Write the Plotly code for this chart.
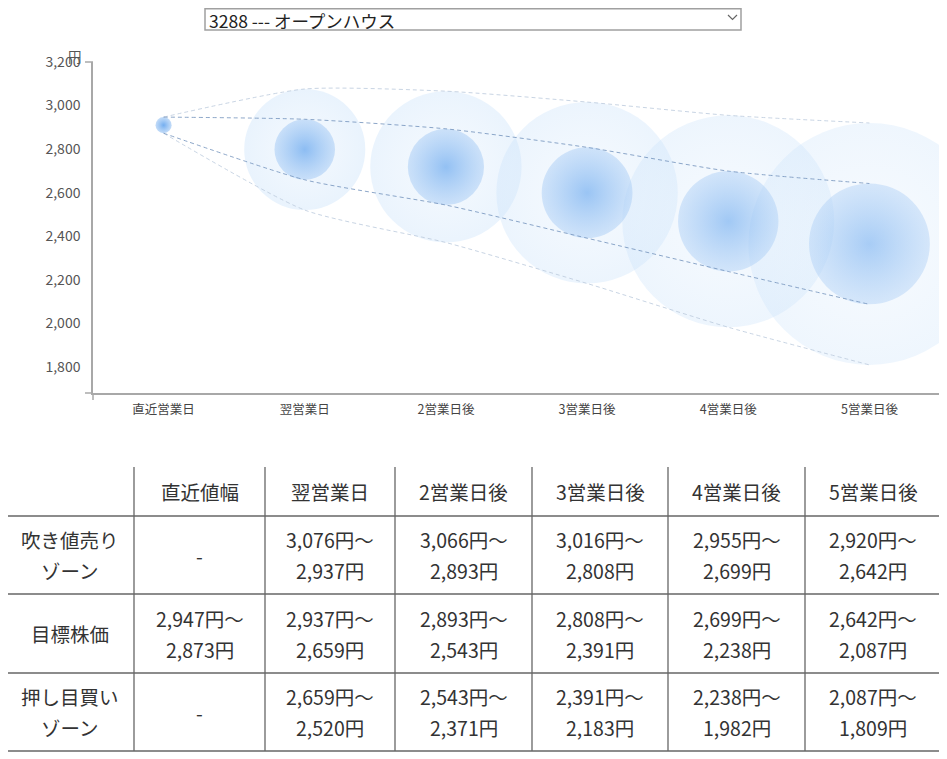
import plotly.graph_objects as go

W, H = 947, 759
OFF = 8  # page body margin: figure starts 8px in from the window corner
FONT = "Noto Sans CJK JP"

stock_label = "3288 --- オープンハウス"
days = ["直近営業日", "翌営業日", "2営業日後", "3営業日後", "4営業日後", "5営業日後"]
table_cols = ["直近値幅", "翌営業日", "2営業日後", "3営業日後", "4営業日後", "5営業日後"]
row_labels = [["吹き値売り", "ゾーン"], ["目標株価"], ["押し目買い", "ゾーン"]]

# 吹き値売りゾーン / 目標株価 / 押し目買いゾーン  (円)
sell_hi = [None, 3076, 3066, 3016, 2955, 2920]
sell_lo = [None, 2937, 2893, 2808, 2699, 2642]
target_hi = [2947, 2937, 2893, 2808, 2699, 2642]
target_lo = [2873, 2659, 2543, 2391, 2238, 2087]
buy_hi = [None, 2659, 2543, 2391, 2238, 2087]
buy_lo = [None, 2520, 2371, 2183, 1982, 1809]

y_ticks = [1800, 2000, 2200, 2400, 2600, 2800, 3000, 3200]
Y_MIN, Y_MAX = 1680, 3200

# bubbles fade out the further ahead they are
fade = [1.0, 0.8, 0.75, 0.7, 0.65, 0.6]

# page layout in window pixels
plot_l, plot_r, plot_t, plot_b = 93, 940, 62, 393
col_edges = [5, 134, 265, 395, 532, 668, 805, 941]
row_edges = [467, 516, 594, 673, 751]
LINE_GAP = 15.5


def px(v):
    return (v - OFF) / W


def py(v):
    return 1 - (v - OFF) / H


px_per_yen = (plot_b - plot_t) / (Y_MAX - Y_MIN)

fig = go.Figure()

# outer bubble: whole range from 吹き値 high to 押し目 low
out_idx = [i for i, h in enumerate(sell_hi) if h is not None]
out_hi = [sell_hi[i] for i in out_idx]
out_lo = [buy_lo[i] for i in out_idx]
fig.add_trace(go.Scatter(
    x=[days[i] for i in out_idx], y=[(h + l) / 2 for h, l in zip(out_hi, out_lo)],
    mode="markers", hoverinfo="skip", showlegend=False,
    marker=dict(size=[(h - l) * px_per_yen for h, l in zip(out_hi, out_lo)],
                color="rgba(200,225,250,0.5)", line=dict(width=0),
                opacity=[fade[i] for i in out_idx],
                gradient=dict(type="radial", color="rgba(222,237,252,0.4)")),
))

# inner bubble: target range
fig.add_trace(go.Scatter(
    x=days, y=[(h + l) / 2 for h, l in zip(target_hi, target_lo)],
    mode="markers", hoverinfo="skip", showlegend=False,
    marker=dict(size=[(h - l) * px_per_yen for h, l in zip(target_hi, target_lo)],
                color="rgba(170,205,245,0.7)", line=dict(width=0), opacity=fade,
                gradient=dict(type="radial", color="rgba(100,165,238,0.9)")),
))

upper_outer = [target_hi[0]] + sell_hi[1:]
lower_outer = [target_lo[0]] + buy_lo[1:]
for vals, col in [(upper_outer, "rgba(190,205,222,0.85)"),
                  (lower_outer, "rgba(190,205,222,0.85)"),
                  (target_hi, "rgba(120,150,190,0.85)"),
                  (target_lo, "rgba(120,150,190,0.85)")]:
    fig.add_trace(go.Scatter(
        x=days, y=vals, mode="lines", hoverinfo="skip", showlegend=False,
        line=dict(color=col, width=1, dash="4px,3px", shape="spline", smoothing=0.6),
    ))

shapes = []
annotations = []

# outer ticks at axis ends (d3 style)
axc = "#a8a8a8"
for yy in (0, 1):
    shapes.append(dict(type="line", xref="x domain", yref="y domain", xsizemode="pixel",
                       xanchor=0, x0=-8, x1=0, y0=yy, y1=yy, line=dict(color=axc, width=1.5)))
for xx in (0, 1):
    shapes.append(dict(type="line", xref="x domain", yref="y domain", ysizemode="pixel",
                       yanchor=0, y0=-7, y1=0, x0=xx, x1=xx, line=dict(color=axc, width=1.5)))

annotations.append(dict(text="円", x=px(75), y=py(56), xref="paper", yref="paper",
                        xanchor="center", yanchor="middle", showarrow=False,
                        font=dict(family=FONT, size=13.5, color="#555")))

# select box
shapes.append(dict(type="rect", xref="paper", yref="paper", x0=px(205), x1=px(741),
                   y0=py(8.8), y1=py(30), line=dict(color="#a0a0a0", width=1.5),
                   fillcolor="white"))
shapes.append(dict(type="path", xref="paper", yref="paper",
                   path=f"M {px(728)},{py(15)} L {px(732.5)},{py(19.5)} L {px(737)},{py(15)}",
                   line=dict(color="#666", width=1.2)))
annotations.append(dict(text=stock_label, x=px(208), y=py(20), xref="paper", yref="paper",
                        xanchor="left", yanchor="middle", showarrow=False, borderpad=0,
                        font=dict(family=FONT, size=17.5, color="#222")))

# table
tc = "#666"
for ry in row_edges[1:]:
    shapes.append(dict(type="line", xref="paper", yref="paper", x0=px(col_edges[0]),
                       x1=px(col_edges[-1]), y0=py(ry), y1=py(ry), line=dict(color=tc, width=1.3)))
for cx in col_edges[1:]:
    shapes.append(dict(type="line", xref="paper", yref="paper", x0=px(cx), x1=px(cx),
                       y0=py(row_edges[0]), y1=py(row_edges[-1]), line=dict(color=tc, width=1.3)))


def cell(col, row, lines):
    xc = (col_edges[col] + col_edges[col + 1]) / 2
    yc = (row_edges[row] + row_edges[row + 1]) / 2
    n = len(lines)
    for i, t in enumerate(lines):
        yy = yc + (i - (n - 1) / 2) * 2 * LINE_GAP
        annotations.append(dict(text=t, x=px(xc), y=py(yy), xref="paper", yref="paper",
                                xanchor="center", yanchor="middle", showarrow=False,
                                font=dict(family=FONT, size=19.5, color="#333")))


def rng(hi, lo):
    if hi is None:
        return ["-"]
    return [f"{hi:,}円～", f"{lo:,}円"]


for c, name in enumerate(table_cols):
    cell(c + 1, 0, [name])
for r, lab in enumerate(row_labels):
    cell(0, r + 1, lab)
for c in range(len(table_cols)):
    cell(c + 1, 1, rng(sell_hi[c], sell_lo[c]))
    cell(c + 1, 2, rng(target_hi[c], target_lo[c]))
    cell(c + 1, 3, rng(buy_hi[c], buy_lo[c]))

fig.update_layout(
    width=W, height=H,
    margin=dict(l=0, r=0, t=0, b=0, pad=0),
    paper_bgcolor="white", plot_bgcolor="white",
    font=dict(family=FONT, color="#555"),
    shapes=shapes, annotations=annotations,
    xaxis=dict(domain=[px(plot_l), px(plot_r)], type="category", range=[-0.5, 5.5],
               categoryorder="array", categoryarray=days, automargin=False,
               showline=True, linecolor=axc, linewidth=1.5, showgrid=False, zeroline=False,
               ticks="", ticklabelstandoff=4, tickfont=dict(family=FONT, size=12.5, color="#444"),
               fixedrange=True),
    yaxis=dict(domain=[py(plot_b), py(plot_t)], range=[Y_MIN, Y_MAX], tickvals=y_ticks,
               tickformat=",", showline=True, linecolor=axc, linewidth=1.5, showgrid=False,
               zeroline=False, ticks="", ticklabelstandoff=8, automargin=False,
               tickfont=dict(family=FONT, size=14, color="#555"), fixedrange=True),
)

fig.write_html("out.html")
